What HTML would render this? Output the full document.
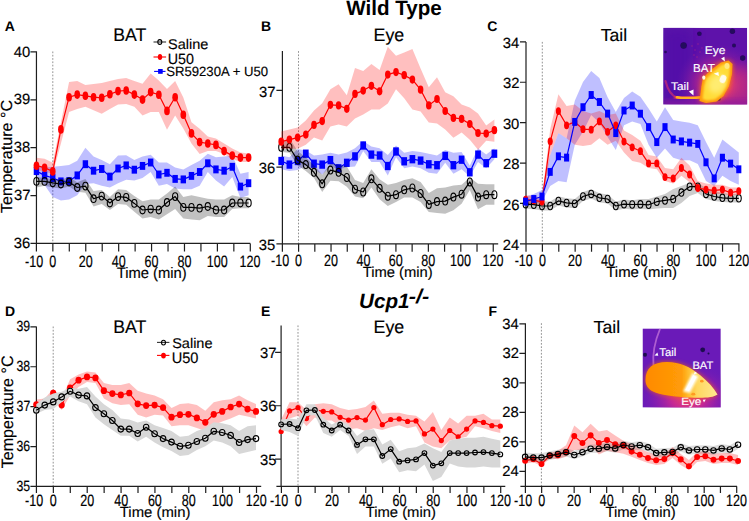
<!DOCTYPE html><html><head><meta charset="utf-8"><style>html,body{margin:0;padding:0;background:#fff;overflow:hidden}svg{display:block}</style></head><body>
<svg width="749" height="521" viewBox="0 0 749 521" style="font-family:'Liberation Sans',sans-serif;text-rendering:geometricPrecision">
<rect width="749" height="521" fill="#fff"/>
<defs><filter id="bl1" x="-50%" y="-50%" width="200%" height="200%"><feGaussianBlur stdDeviation="1.2"/></filter><filter id="bl05" x="-50%" y="-50%" width="200%" height="200%"><feGaussianBlur stdDeviation="0.6"/></filter><filter id="bl2" x="-50%" y="-50%" width="200%" height="200%"><feGaussianBlur stdDeviation="2.5"/></filter><filter id="bl3" x="-50%" y="-50%" width="200%" height="200%"><feGaussianBlur stdDeviation="6"/></filter><clipPath id="clipC"><rect x="663.2" y="27.8" width="84" height="76.8"/></clipPath><clipPath id="clipF"><rect x="642.5" y="328.4" width="78.3" height="79.2"/></clipPath><radialGradient id="gC" cx="0.5" cy="0.5" r="0.5"><stop offset="0" stop-color="#ff6a20" stop-opacity="1"/><stop offset="0.3" stop-color="#e03a70" stop-opacity="0.95"/><stop offset="0.65" stop-color="#a0209a" stop-opacity="0.55"/><stop offset="1" stop-color="#6a18aa" stop-opacity="0"/></radialGradient><radialGradient id="gF" cx="0.5" cy="0.5" r="0.5"><stop offset="0" stop-color="#f04a60" stop-opacity="1"/><stop offset="0.35" stop-color="#d02a90" stop-opacity="0.9"/><stop offset="0.7" stop-color="#a020a8" stop-opacity="0.45"/><stop offset="1" stop-color="#7020b0" stop-opacity="0"/></radialGradient><linearGradient id="gFb" x1="0" y1="0" x2="1" y2="0"><stop offset="0" stop-color="#ff8a00"/><stop offset="0.5" stop-color="#ff9c08"/><stop offset="0.6" stop-color="#ffbe30"/><stop offset="0.72" stop-color="#ffd860"/><stop offset="1" stop-color="#ffe890"/></linearGradient></defs>
<text transform="translate(346.2,14.76) scale(0.996,1)" font-size="20.68" font-weight="bold">Wild Type</text>
<text transform="translate(4.65,30.6)" font-size="14.00" font-weight="bold">A</text>
<text transform="translate(260.99,30.6)" font-size="14.00" font-weight="bold">B</text>
<text transform="translate(487.34,30.9)" font-size="14.00" font-weight="bold">C</text>
<text transform="translate(4.89,315.6)" font-size="14.00" font-weight="bold">D</text>
<text transform="translate(260.99,315.7)" font-size="14.00" font-weight="bold">E</text>
<text transform="translate(488.39,315.6)" font-size="14.00" font-weight="bold">F</text>
<text transform="translate(359.06,307.98) scale(1.004,1)" font-size="20.56" font-weight="bold" font-style="italic">Ucp1</text>
<text transform="translate(408.85,302.8) scale(1.085,1)" font-size="20.00" font-weight="bold" font-style="italic">-/-</text>
<line x1="52.8" y1="51.5" x2="52.8" y2="243.4" stroke="#8c8c8c" stroke-width="0.95" stroke-dasharray="1.7,1.6"/>
<path d="M36.45,51.2V243.4M36.45,243.4H250.3M30.45,243.4H36.45M30.45,195.53H36.45M30.45,147.65H36.45M30.45,99.78H36.45M30.45,51.9H36.45M36.4,243.4v8M52.85,243.4v8M69.3,243.4v8M85.76,243.4v8M102.21,243.4v8M118.67,243.4v8M135.12,243.4v8M151.57,243.4v8M168.03,243.4v8M184.48,243.4v8M200.94,243.4v8M217.39,243.4v8M233.84,243.4v8M250.3,243.4v8" stroke="#1e1e1e" stroke-width="1.2" fill="none"/>
<polygon points="36.43,165.9 44.59,167.6 52.75,166.8 60.91,165.9 69.07,165 77.23,160.7 85.39,147.8 93.55,156.4 101.71,159.9 109.87,164.2 118.03,155.5 126.19,155.2 134.35,159.9 142.51,156.4 150.67,154.7 158.83,162.5 166.99,162.5 175.15,167.6 183.31,169.4 191.47,165 199.63,160.7 207.79,153.8 215.95,157.3 224.11,156.4 232.27,155.5 240.43,173.7 248.59,172 248.59,195.3 240.43,197.9 232.27,177.1 224.11,186.6 215.95,180.6 207.79,172 199.63,185.8 191.47,189.2 183.31,189.2 175.15,188.4 166.99,184 158.83,185.8 150.67,172 142.51,178 134.35,180.6 126.19,179.7 118.03,183.2 109.87,187.5 101.71,185.8 93.55,183.2 85.39,184 77.23,195.3 69.07,199.6 60.91,200.4 52.75,197 44.59,184.9 36.43,176.3" fill="#0000ff" fill-opacity="0.25"/>
<polyline points="36.43,171.1 44.59,175.4 52.75,178 60.91,181.4 69.07,181.1 77.23,175.4 85.39,164.2 93.55,170.7 101.71,169 109.87,176.6 118.03,168.5 126.19,165.4 134.35,169.7 142.51,165.9 150.67,162.5 158.83,174.5 166.99,172.8 175.15,178.9 183.31,179.4 191.47,175.9 199.63,172 207.79,163.3 215.95,169.4 224.11,170.7 232.27,166.8 240.43,186.6 248.59,183.2" fill="none" stroke="#0000ff" stroke-width="1.2" stroke-linejoin="round"/>
<rect x="33.73" y="167.15" width="5.4" height="7.9" fill="#00f"/>
<rect x="41.89" y="171.45" width="5.4" height="7.9" fill="#00f"/>
<rect x="50.05" y="174.05" width="5.4" height="7.9" fill="#00f"/>
<rect x="58.21" y="177.45" width="5.4" height="7.9" fill="#00f"/>
<rect x="66.37" y="177.15" width="5.4" height="7.9" fill="#00f"/>
<rect x="74.53" y="171.45" width="5.4" height="7.9" fill="#00f"/>
<rect x="82.69" y="160.25" width="5.4" height="7.9" fill="#00f"/>
<rect x="90.85" y="166.75" width="5.4" height="7.9" fill="#00f"/>
<rect x="99.01" y="165.05" width="5.4" height="7.9" fill="#00f"/>
<rect x="107.17" y="172.65" width="5.4" height="7.9" fill="#00f"/>
<rect x="115.33" y="164.55" width="5.4" height="7.9" fill="#00f"/>
<rect x="123.49" y="161.45" width="5.4" height="7.9" fill="#00f"/>
<rect x="131.65" y="165.75" width="5.4" height="7.9" fill="#00f"/>
<rect x="139.81" y="161.95" width="5.4" height="7.9" fill="#00f"/>
<rect x="147.97" y="158.55" width="5.4" height="7.9" fill="#00f"/>
<rect x="156.13" y="170.55" width="5.4" height="7.9" fill="#00f"/>
<rect x="164.29" y="168.85" width="5.4" height="7.9" fill="#00f"/>
<rect x="172.45" y="174.95" width="5.4" height="7.9" fill="#00f"/>
<rect x="180.61" y="175.45" width="5.4" height="7.9" fill="#00f"/>
<rect x="188.77" y="171.95" width="5.4" height="7.9" fill="#00f"/>
<rect x="196.93" y="168.05" width="5.4" height="7.9" fill="#00f"/>
<rect x="205.09" y="159.35" width="5.4" height="7.9" fill="#00f"/>
<rect x="213.25" y="165.45" width="5.4" height="7.9" fill="#00f"/>
<rect x="221.41" y="166.75" width="5.4" height="7.9" fill="#00f"/>
<rect x="229.57" y="162.85" width="5.4" height="7.9" fill="#00f"/>
<rect x="237.73" y="182.65" width="5.4" height="7.9" fill="#00f"/>
<rect x="245.89" y="179.25" width="5.4" height="7.9" fill="#00f"/>
<polygon points="36.43,177.1 44.59,178 52.75,178.9 60.91,179.7 69.07,177.1 77.23,182.3 85.39,178.9 93.55,191 101.71,190.1 109.87,197 118.03,189.2 126.19,190.1 134.35,196.1 142.51,201.3 150.67,199.6 158.83,199.6 166.99,193.5 175.15,186.6 183.31,197 191.47,195.3 199.63,197 207.79,198.7 215.95,199.6 224.11,199.6 232.27,195.3 240.43,197 248.59,197 248.59,208.2 240.43,208.2 232.27,209.1 224.11,216.9 215.95,216.9 207.79,216 199.63,220.3 191.47,219.4 183.31,218.6 175.15,209.1 166.99,214.3 158.83,219.4 150.67,216.9 142.51,218.6 134.35,211.7 126.19,204.8 118.03,203.9 109.87,210 101.71,203.9 93.55,206.5 85.39,192.7 77.23,191.8 69.07,186.6 60.91,188.4 52.75,187.5 44.59,185.8 36.43,187.5" fill="#000000" fill-opacity="0.245"/>
<polyline points="36.43,181.4 44.59,181.4 52.75,182.8 60.91,184 69.07,182 77.23,187.5 85.39,186.1 93.55,198.7 101.71,196.1 109.87,203 118.03,196.6 126.19,197.3 134.35,203.4 142.51,210 150.67,209.1 158.83,210 166.99,202.5 175.15,196.6 183.31,207.4 191.47,207.4 199.63,208.2 207.79,206.5 215.95,210 224.11,210 232.27,203 240.43,203 248.59,203" fill="none" stroke="#000" stroke-width="1.2" stroke-linejoin="round"/>
<ellipse cx="36.43" cy="181.4" rx="2.6" ry="3.85" fill="none" stroke="#000" stroke-width="1.1"/>
<ellipse cx="44.59" cy="181.4" rx="2.6" ry="3.85" fill="none" stroke="#000" stroke-width="1.1"/>
<ellipse cx="52.75" cy="182.8" rx="2.6" ry="3.85" fill="none" stroke="#000" stroke-width="1.1"/>
<ellipse cx="60.91" cy="184" rx="2.6" ry="3.85" fill="none" stroke="#000" stroke-width="1.1"/>
<ellipse cx="69.07" cy="182" rx="2.6" ry="3.85" fill="none" stroke="#000" stroke-width="1.1"/>
<ellipse cx="77.23" cy="187.5" rx="2.6" ry="3.85" fill="none" stroke="#000" stroke-width="1.1"/>
<ellipse cx="85.39" cy="186.1" rx="2.6" ry="3.85" fill="none" stroke="#000" stroke-width="1.1"/>
<ellipse cx="93.55" cy="198.7" rx="2.6" ry="3.85" fill="none" stroke="#000" stroke-width="1.1"/>
<ellipse cx="101.71" cy="196.1" rx="2.6" ry="3.85" fill="none" stroke="#000" stroke-width="1.1"/>
<ellipse cx="109.87" cy="203" rx="2.6" ry="3.85" fill="none" stroke="#000" stroke-width="1.1"/>
<ellipse cx="118.03" cy="196.6" rx="2.6" ry="3.85" fill="none" stroke="#000" stroke-width="1.1"/>
<ellipse cx="126.19" cy="197.3" rx="2.6" ry="3.85" fill="none" stroke="#000" stroke-width="1.1"/>
<ellipse cx="134.35" cy="203.4" rx="2.6" ry="3.85" fill="none" stroke="#000" stroke-width="1.1"/>
<ellipse cx="142.51" cy="210" rx="2.6" ry="3.85" fill="none" stroke="#000" stroke-width="1.1"/>
<ellipse cx="150.67" cy="209.1" rx="2.6" ry="3.85" fill="none" stroke="#000" stroke-width="1.1"/>
<ellipse cx="158.83" cy="210" rx="2.6" ry="3.85" fill="none" stroke="#000" stroke-width="1.1"/>
<ellipse cx="166.99" cy="202.5" rx="2.6" ry="3.85" fill="none" stroke="#000" stroke-width="1.1"/>
<ellipse cx="175.15" cy="196.6" rx="2.6" ry="3.85" fill="none" stroke="#000" stroke-width="1.1"/>
<ellipse cx="183.31" cy="207.4" rx="2.6" ry="3.85" fill="none" stroke="#000" stroke-width="1.1"/>
<ellipse cx="191.47" cy="207.4" rx="2.6" ry="3.85" fill="none" stroke="#000" stroke-width="1.1"/>
<ellipse cx="199.63" cy="208.2" rx="2.6" ry="3.85" fill="none" stroke="#000" stroke-width="1.1"/>
<ellipse cx="207.79" cy="206.5" rx="2.6" ry="3.85" fill="none" stroke="#000" stroke-width="1.1"/>
<ellipse cx="215.95" cy="210" rx="2.6" ry="3.85" fill="none" stroke="#000" stroke-width="1.1"/>
<ellipse cx="224.11" cy="210" rx="2.6" ry="3.85" fill="none" stroke="#000" stroke-width="1.1"/>
<ellipse cx="232.27" cy="203" rx="2.6" ry="3.85" fill="none" stroke="#000" stroke-width="1.1"/>
<ellipse cx="240.43" cy="203" rx="2.6" ry="3.85" fill="none" stroke="#000" stroke-width="1.1"/>
<ellipse cx="248.59" cy="203" rx="2.6" ry="3.85" fill="none" stroke="#000" stroke-width="1.1"/>
<polygon points="36.43,157.7 44.59,158.7 52.75,162.7 60.91,122.4 69.07,82 77.23,81 85.39,85 93.55,84 101.71,83 109.87,81 118.03,79 126.19,78 134.35,80.9 142.51,83.8 150.67,73.5 158.83,80.4 166.99,89 175.15,80.9 183.31,97.6 191.47,122.3 199.63,128.8 207.79,136.4 215.95,138.4 224.11,143.5 232.27,148.5 240.43,152.5 248.59,153.5 248.59,161.9 240.43,161.9 232.27,159 224.11,154 215.95,151.1 207.79,151.1 199.63,154 191.47,143.5 183.31,128.4 175.15,115.5 166.99,129.8 158.83,112 150.67,112 142.51,115.5 134.35,106.8 126.19,103.9 118.03,104.5 109.87,109.1 101.71,113.7 93.55,110.3 85.39,106.8 77.23,109.1 69.07,112 60.91,143.5 52.75,173.8 44.59,171.8 36.43,169.8" fill="#ff0000" fill-opacity="0.25"/>
<polyline points="36.43,165.7 44.59,167.7 52.75,171.4 60.91,129.4 69.07,97.2 77.23,94.6 85.39,95.8 93.55,97.2 101.71,97.8 109.87,94.2 118.03,91.1 126.19,90.5 134.35,94.6 142.51,99.6 150.67,92.1 158.83,94.7 166.99,110.9 175.15,97.2 183.31,114.7 191.47,133.4 199.63,142.1 207.79,143.5 215.95,144.9 224.11,151.1 232.27,155.6 240.43,157.6 248.59,157.6" fill="none" stroke="#ff0000" stroke-width="1.2" stroke-linejoin="round"/>
<ellipse cx="36.43" cy="165.7" rx="2.85" ry="4.3" fill="#f00"/>
<ellipse cx="44.59" cy="167.7" rx="2.85" ry="4.3" fill="#f00"/>
<ellipse cx="52.75" cy="171.4" rx="2.85" ry="4.3" fill="#f00"/>
<ellipse cx="60.91" cy="129.4" rx="2.85" ry="4.3" fill="#f00"/>
<ellipse cx="69.07" cy="97.2" rx="2.85" ry="4.3" fill="#f00"/>
<ellipse cx="77.23" cy="94.6" rx="2.85" ry="4.3" fill="#f00"/>
<ellipse cx="85.39" cy="95.8" rx="2.85" ry="4.3" fill="#f00"/>
<ellipse cx="93.55" cy="97.2" rx="2.85" ry="4.3" fill="#f00"/>
<ellipse cx="101.71" cy="97.8" rx="2.85" ry="4.3" fill="#f00"/>
<ellipse cx="109.87" cy="94.2" rx="2.85" ry="4.3" fill="#f00"/>
<ellipse cx="118.03" cy="91.1" rx="2.85" ry="4.3" fill="#f00"/>
<ellipse cx="126.19" cy="90.5" rx="2.85" ry="4.3" fill="#f00"/>
<ellipse cx="134.35" cy="94.6" rx="2.85" ry="4.3" fill="#f00"/>
<ellipse cx="142.51" cy="99.6" rx="2.85" ry="4.3" fill="#f00"/>
<ellipse cx="150.67" cy="92.1" rx="2.85" ry="4.3" fill="#f00"/>
<ellipse cx="158.83" cy="94.7" rx="2.85" ry="4.3" fill="#f00"/>
<ellipse cx="166.99" cy="110.9" rx="2.85" ry="4.3" fill="#f00"/>
<ellipse cx="175.15" cy="97.2" rx="2.85" ry="4.3" fill="#f00"/>
<ellipse cx="183.31" cy="114.7" rx="2.85" ry="4.3" fill="#f00"/>
<ellipse cx="191.47" cy="133.4" rx="2.85" ry="4.3" fill="#f00"/>
<ellipse cx="199.63" cy="142.1" rx="2.85" ry="4.3" fill="#f00"/>
<ellipse cx="207.79" cy="143.5" rx="2.85" ry="4.3" fill="#f00"/>
<ellipse cx="215.95" cy="144.9" rx="2.85" ry="4.3" fill="#f00"/>
<ellipse cx="224.11" cy="151.1" rx="2.85" ry="4.3" fill="#f00"/>
<ellipse cx="232.27" cy="155.6" rx="2.85" ry="4.3" fill="#f00"/>
<ellipse cx="240.43" cy="157.6" rx="2.85" ry="4.3" fill="#f00"/>
<ellipse cx="248.59" cy="157.6" rx="2.85" ry="4.3" fill="#f00"/>
<text transform="translate(13.76,248)" font-size="14.80" stroke="#000" stroke-width="0.15">36</text>
<text transform="translate(13.91,200.12)" font-size="14.80" stroke="#000" stroke-width="0.15">37</text>
<text transform="translate(13.76,152.25)" font-size="14.80" stroke="#000" stroke-width="0.15">38</text>
<text transform="translate(13.84,104.38)" font-size="14.80" stroke="#000" stroke-width="0.15">39</text>
<text transform="translate(13.69,56.5)" font-size="14.80" stroke="#000" stroke-width="0.15">40</text>
<text transform="translate(25.01,266.5) scale(0.760,1)" font-size="16.50" stroke="#000" stroke-width="0.20">-10</text>
<text transform="translate(49.34,266.5) scale(0.760,1)" font-size="16.50" stroke="#000" stroke-width="0.20">0</text>
<text transform="translate(78.7,266.5) scale(0.760,1)" font-size="16.50" stroke="#000" stroke-width="0.20">20</text>
<text transform="translate(111.8,266.5) scale(0.760,1)" font-size="16.50" stroke="#000" stroke-width="0.20">40</text>
<text transform="translate(144.52,266.5) scale(0.760,1)" font-size="16.50" stroke="#000" stroke-width="0.20">60</text>
<text transform="translate(177.46,266.5) scale(0.760,1)" font-size="16.50" stroke="#000" stroke-width="0.20">80</text>
<text transform="translate(206.7,266.5) scale(0.760,1)" font-size="16.50" stroke="#000" stroke-width="0.20">100</text>
<text transform="translate(239.61,266.5) scale(0.760,1)" font-size="16.50" stroke="#000" stroke-width="0.20">120</text>
<text transform="translate(116.7,278.41) scale(0.972,1)" font-size="15.19" stroke="#000" stroke-width="0.15">Time (min)</text>
<text transform="translate(11.7,213.12) rotate(-90) scale(1.009,1)" font-size="16.00" stroke="#000" stroke-width="0.15">Temperature °C</text>
<text transform="translate(113.19,41) scale(0.968,1)" font-size="18.26" stroke="#000" stroke-width="0.15">BAT</text>
<path d="M153.5,42H166.1" stroke="#333" stroke-width="1.1"/>
<path d="M153.5,57H166.1" stroke="#f00" stroke-width="1.1"/>
<path d="M154.1,71.4H165.5" stroke="#00f" stroke-width="1.1"/>
<ellipse cx="159.8" cy="42" rx="2.0" ry="2.4" fill="none" stroke="#000" stroke-width="1.1"/>
<ellipse cx="160" cy="57" rx="2.2" ry="2.95" fill="#f00"/>
<rect x="158.1" y="69" width="4.6" height="4.8" fill="#00f"/>
<text transform="translate(168.05,49.06) scale(1.025,1)" font-size="14.15" stroke="#000" stroke-width="0.15">Saline</text>
<text transform="translate(167.63,63.85) scale(0.968,1)" font-size="14.79" stroke="#000" stroke-width="0.15">U50</text>
<text transform="translate(166.21,75.87) scale(0.982,1)" font-size="13.38" stroke="#000" stroke-width="0.15">SR59230A + U50</text>
<line x1="298.5" y1="51.1" x2="298.5" y2="243.85" stroke="#8c8c8c" stroke-width="0.95" stroke-dasharray="1.7,1.6"/>
<path d="M282.4,51.1V243.85M282.4,243.85H498.2M276.4,243.85H282.4M276.4,167.1H282.4M276.4,90.4H282.4M282.38,243.85v8M298.6,243.85v8M314.82,243.85v8M331.04,243.85v8M347.26,243.85v8M363.48,243.85v8M379.7,243.85v8M395.92,243.85v8M412.14,243.85v8M428.36,243.85v8M444.58,243.85v8M460.8,243.85v8M477.02,243.85v8M493.24,243.85v8" stroke="#1e1e1e" stroke-width="1.2" fill="none"/>
<polygon points="281.2,155.5 289.4,157.3 297.6,149.1 305.8,150.4 314,155.5 322.2,154.6 330.4,152.8 338.6,154.5 346.8,152.5 355,148.2 363.2,140.9 371.4,146.4 379.6,148.2 387.8,155 396,145.5 404.2,152.8 412.4,151 420.6,151.9 428.8,153.7 437,155.5 445.2,150 453.4,152.8 461.6,151.9 469.8,165.5 478,148.2 486.2,154.6 494.4,148.2 494.4,159.2 486.2,168.3 478,161.9 469.8,176.5 461.6,169.2 453.4,173.7 445.2,162.8 437,173.7 428.8,172.8 420.6,168.3 412.4,166.5 404.2,168.3 396,157.3 387.8,175.6 379.6,161.9 371.4,161.9 363.2,151 355,166.5 346.8,167.2 338.6,169.3 330.4,166.5 322.2,174.6 314,169.2 305.8,166 297.6,170.1 289.4,171 281.2,169.2" fill="#0000ff" fill-opacity="0.25"/>
<polyline points="281.2,161 289.4,164.6 297.6,161 305.8,153.7 314,163.7 322.2,164.6 330.4,160.1 338.6,168.3 346.8,162.8 355,156.4 363.2,145.5 371.4,154.6 379.6,155.5 387.8,166 396,151.5 404.2,161.3 412.4,159.2 420.6,160.6 428.8,164.3 437,165.2 445.2,155.9 453.4,165.2 461.6,159.7 469.8,172.3 478,154.6 486.2,163.2 494.4,153.7" fill="none" stroke="#0000ff" stroke-width="1.2" stroke-linejoin="round"/>
<rect x="278.35" y="156.85" width="5.7" height="8.3" fill="#00f"/>
<rect x="286.55" y="160.45" width="5.7" height="8.3" fill="#00f"/>
<rect x="294.75" y="156.85" width="5.7" height="8.3" fill="#00f"/>
<rect x="302.95" y="149.55" width="5.7" height="8.3" fill="#00f"/>
<rect x="311.15" y="159.55" width="5.7" height="8.3" fill="#00f"/>
<rect x="319.35" y="160.45" width="5.7" height="8.3" fill="#00f"/>
<rect x="327.55" y="155.95" width="5.7" height="8.3" fill="#00f"/>
<rect x="335.75" y="164.15" width="5.7" height="8.3" fill="#00f"/>
<rect x="343.95" y="158.65" width="5.7" height="8.3" fill="#00f"/>
<rect x="352.15" y="152.25" width="5.7" height="8.3" fill="#00f"/>
<rect x="360.35" y="141.35" width="5.7" height="8.3" fill="#00f"/>
<rect x="368.55" y="150.45" width="5.7" height="8.3" fill="#00f"/>
<rect x="376.75" y="151.35" width="5.7" height="8.3" fill="#00f"/>
<rect x="384.95" y="161.85" width="5.7" height="8.3" fill="#00f"/>
<rect x="393.15" y="147.35" width="5.7" height="8.3" fill="#00f"/>
<rect x="401.35" y="157.15" width="5.7" height="8.3" fill="#00f"/>
<rect x="409.55" y="155.05" width="5.7" height="8.3" fill="#00f"/>
<rect x="417.75" y="156.45" width="5.7" height="8.3" fill="#00f"/>
<rect x="425.95" y="160.15" width="5.7" height="8.3" fill="#00f"/>
<rect x="434.15" y="161.05" width="5.7" height="8.3" fill="#00f"/>
<rect x="442.35" y="151.75" width="5.7" height="8.3" fill="#00f"/>
<rect x="450.55" y="161.05" width="5.7" height="8.3" fill="#00f"/>
<rect x="458.75" y="155.55" width="5.7" height="8.3" fill="#00f"/>
<rect x="466.95" y="168.15" width="5.7" height="8.3" fill="#00f"/>
<rect x="475.15" y="150.45" width="5.7" height="8.3" fill="#00f"/>
<rect x="483.35" y="159.05" width="5.7" height="8.3" fill="#00f"/>
<rect x="491.55" y="149.55" width="5.7" height="8.3" fill="#00f"/>
<polygon points="281.2,141.8 289.4,138.2 297.6,151 305.8,157.3 314,165.2 322.2,174.7 330.4,163.7 338.6,164.6 346.8,166.6 355,180.1 363.2,182.9 371.4,169.2 379.6,179.2 387.8,184.7 396,182.9 404.2,180.1 412.4,178.3 420.6,181.9 428.8,192.9 437,188.3 445.2,187.4 453.4,185.6 461.6,184.7 469.8,177.4 478,183.8 486.2,184.3 494.4,184.3 494.4,204.7 486.2,204.7 478,209.3 469.8,190.1 461.6,203.8 453.4,210.2 445.2,213.8 437,212.9 428.8,212 420.6,202 412.4,197.4 404.2,197.4 396,202 387.8,206 379.6,199.3 371.4,187.4 363.2,198.3 355,196.5 346.8,186.7 338.6,181.3 330.4,180.7 322.2,192 314,178 305.8,171 297.6,165.5 289.4,152.8 281.2,151.9" fill="#000000" fill-opacity="0.245"/>
<polyline points="281.2,147.3 289.4,147.3 297.6,160.1 305.8,164.6 314,172.3 322.2,183.8 330.4,170.1 338.6,172.3 346.8,177.4 355,189.2 363.2,192 371.4,178.8 379.6,188.3 387.8,196.2 396,194.7 404.2,189.8 412.4,188 420.6,193.4 428.8,204.4 437,201.6 445.2,201.1 453.4,197.1 461.6,194.2 469.8,181.9 478,197.1 486.2,194.7 494.4,194.7" fill="none" stroke="#000" stroke-width="1.2" stroke-linejoin="round"/>
<ellipse cx="281.2" cy="147.3" rx="2.5" ry="3.95" fill="none" stroke="#000" stroke-width="1.1"/>
<ellipse cx="289.4" cy="147.3" rx="2.5" ry="3.95" fill="none" stroke="#000" stroke-width="1.1"/>
<ellipse cx="297.6" cy="160.1" rx="2.5" ry="3.95" fill="none" stroke="#000" stroke-width="1.1"/>
<ellipse cx="305.8" cy="164.6" rx="2.5" ry="3.95" fill="none" stroke="#000" stroke-width="1.1"/>
<ellipse cx="314" cy="172.3" rx="2.5" ry="3.95" fill="none" stroke="#000" stroke-width="1.1"/>
<ellipse cx="322.2" cy="183.8" rx="2.5" ry="3.95" fill="none" stroke="#000" stroke-width="1.1"/>
<ellipse cx="330.4" cy="170.1" rx="2.5" ry="3.95" fill="none" stroke="#000" stroke-width="1.1"/>
<ellipse cx="338.6" cy="172.3" rx="2.5" ry="3.95" fill="none" stroke="#000" stroke-width="1.1"/>
<ellipse cx="346.8" cy="177.4" rx="2.5" ry="3.95" fill="none" stroke="#000" stroke-width="1.1"/>
<ellipse cx="355" cy="189.2" rx="2.5" ry="3.95" fill="none" stroke="#000" stroke-width="1.1"/>
<ellipse cx="363.2" cy="192" rx="2.5" ry="3.95" fill="none" stroke="#000" stroke-width="1.1"/>
<ellipse cx="371.4" cy="178.8" rx="2.5" ry="3.95" fill="none" stroke="#000" stroke-width="1.1"/>
<ellipse cx="379.6" cy="188.3" rx="2.5" ry="3.95" fill="none" stroke="#000" stroke-width="1.1"/>
<ellipse cx="387.8" cy="196.2" rx="2.5" ry="3.95" fill="none" stroke="#000" stroke-width="1.1"/>
<ellipse cx="396" cy="194.7" rx="2.5" ry="3.95" fill="none" stroke="#000" stroke-width="1.1"/>
<ellipse cx="404.2" cy="189.8" rx="2.5" ry="3.95" fill="none" stroke="#000" stroke-width="1.1"/>
<ellipse cx="412.4" cy="188" rx="2.5" ry="3.95" fill="none" stroke="#000" stroke-width="1.1"/>
<ellipse cx="420.6" cy="193.4" rx="2.5" ry="3.95" fill="none" stroke="#000" stroke-width="1.1"/>
<ellipse cx="428.8" cy="204.4" rx="2.5" ry="3.95" fill="none" stroke="#000" stroke-width="1.1"/>
<ellipse cx="437" cy="201.6" rx="2.5" ry="3.95" fill="none" stroke="#000" stroke-width="1.1"/>
<ellipse cx="445.2" cy="201.1" rx="2.5" ry="3.95" fill="none" stroke="#000" stroke-width="1.1"/>
<ellipse cx="453.4" cy="197.1" rx="2.5" ry="3.95" fill="none" stroke="#000" stroke-width="1.1"/>
<ellipse cx="461.6" cy="194.2" rx="2.5" ry="3.95" fill="none" stroke="#000" stroke-width="1.1"/>
<ellipse cx="469.8" cy="181.9" rx="2.5" ry="3.95" fill="none" stroke="#000" stroke-width="1.1"/>
<ellipse cx="478" cy="197.1" rx="2.5" ry="3.95" fill="none" stroke="#000" stroke-width="1.1"/>
<ellipse cx="486.2" cy="194.7" rx="2.5" ry="3.95" fill="none" stroke="#000" stroke-width="1.1"/>
<ellipse cx="494.4" cy="194.7" rx="2.5" ry="3.95" fill="none" stroke="#000" stroke-width="1.1"/>
<polygon points="281.2,131.6 289.4,129.6 297.6,127.5 305.8,120.5 314,110.4 322.2,103.3 330.4,89.2 338.6,84.2 346.8,95.3 355,68.1 363.2,71.1 371.4,64 379.6,70.1 387.8,46.8 396,55.7 404.2,52.4 412.4,49.1 420.6,68.4 428.8,87.3 437,77.2 445.2,92.3 453.4,96.3 461.6,104.4 469.8,107.4 478,113.5 486.2,125.6 494.4,119.5 494.4,141.7 486.2,140.7 478,149.8 469.8,139.7 461.6,132.6 453.4,137.7 445.2,129.6 437,123.5 428.8,122.5 420.6,111.5 412.4,109.4 404.2,98.3 396,89.3 387.8,103.4 379.6,109.4 371.4,109.4 363.2,114.4 355,118.5 346.8,126.5 338.6,124.5 330.4,126.5 322.2,140.6 314,137.6 305.8,144.7 297.6,148.7 289.4,148.7 281.2,148.7" fill="#ff0000" fill-opacity="0.25"/>
<polyline points="281.2,141.7 289.4,139.6 297.6,137.6 305.8,134.6 314,124.9 322.2,121.1 330.4,104.8 338.6,105.4 346.8,108.8 355,93.9 363.2,90.6 371.4,85.8 379.6,91.3 387.8,74.6 396,72.1 404.2,75.2 412.4,79.6 420.6,89.7 428.8,105.4 437,99 445.2,111 453.4,117.9 461.6,118.9 469.8,124 478,133 486.2,133.6 494.4,130.2" fill="none" stroke="#ff0000" stroke-width="1.2" stroke-linejoin="round"/>
<ellipse cx="281.2" cy="141.7" rx="2.8" ry="4.1" fill="#f00"/>
<ellipse cx="289.4" cy="139.6" rx="2.8" ry="4.1" fill="#f00"/>
<ellipse cx="297.6" cy="137.6" rx="2.8" ry="4.1" fill="#f00"/>
<ellipse cx="305.8" cy="134.6" rx="2.8" ry="4.1" fill="#f00"/>
<ellipse cx="314" cy="124.9" rx="2.8" ry="4.1" fill="#f00"/>
<ellipse cx="322.2" cy="121.1" rx="2.8" ry="4.1" fill="#f00"/>
<ellipse cx="330.4" cy="104.8" rx="2.8" ry="4.1" fill="#f00"/>
<ellipse cx="338.6" cy="105.4" rx="2.8" ry="4.1" fill="#f00"/>
<ellipse cx="346.8" cy="108.8" rx="2.8" ry="4.1" fill="#f00"/>
<ellipse cx="355" cy="93.9" rx="2.8" ry="4.1" fill="#f00"/>
<ellipse cx="363.2" cy="90.6" rx="2.8" ry="4.1" fill="#f00"/>
<ellipse cx="371.4" cy="85.8" rx="2.8" ry="4.1" fill="#f00"/>
<ellipse cx="379.6" cy="91.3" rx="2.8" ry="4.1" fill="#f00"/>
<ellipse cx="387.8" cy="74.6" rx="2.8" ry="4.1" fill="#f00"/>
<ellipse cx="396" cy="72.1" rx="2.8" ry="4.1" fill="#f00"/>
<ellipse cx="404.2" cy="75.2" rx="2.8" ry="4.1" fill="#f00"/>
<ellipse cx="412.4" cy="79.6" rx="2.8" ry="4.1" fill="#f00"/>
<ellipse cx="420.6" cy="89.7" rx="2.8" ry="4.1" fill="#f00"/>
<ellipse cx="428.8" cy="105.4" rx="2.8" ry="4.1" fill="#f00"/>
<ellipse cx="437" cy="99" rx="2.8" ry="4.1" fill="#f00"/>
<ellipse cx="445.2" cy="111" rx="2.8" ry="4.1" fill="#f00"/>
<ellipse cx="453.4" cy="117.9" rx="2.8" ry="4.1" fill="#f00"/>
<ellipse cx="461.6" cy="118.9" rx="2.8" ry="4.1" fill="#f00"/>
<ellipse cx="469.8" cy="124" rx="2.8" ry="4.1" fill="#f00"/>
<ellipse cx="478" cy="133" rx="2.8" ry="4.1" fill="#f00"/>
<ellipse cx="486.2" cy="133.6" rx="2.8" ry="4.1" fill="#f00"/>
<ellipse cx="494.4" cy="130.2" rx="2.8" ry="4.1" fill="#f00"/>
<text transform="translate(258.76,250.05)" font-size="14.80" stroke="#000" stroke-width="0.15">35</text>
<text transform="translate(258.76,173.3)" font-size="14.80" stroke="#000" stroke-width="0.15">36</text>
<text transform="translate(258.91,96.6)" font-size="14.80" stroke="#000" stroke-width="0.15">37</text>
<text transform="translate(270.99,265.8) scale(0.760,1)" font-size="16.50" stroke="#000" stroke-width="0.20">-10</text>
<text transform="translate(295.09,265.8) scale(0.760,1)" font-size="16.50" stroke="#000" stroke-width="0.20">0</text>
<text transform="translate(323.99,265.8) scale(0.760,1)" font-size="16.50" stroke="#000" stroke-width="0.20">20</text>
<text transform="translate(356.61,265.8) scale(0.760,1)" font-size="16.50" stroke="#000" stroke-width="0.20">40</text>
<text transform="translate(388.87,265.8) scale(0.760,1)" font-size="16.50" stroke="#000" stroke-width="0.20">60</text>
<text transform="translate(421.34,265.8) scale(0.760,1)" font-size="16.50" stroke="#000" stroke-width="0.20">80</text>
<text transform="translate(450.11,265.8) scale(0.760,1)" font-size="16.50" stroke="#000" stroke-width="0.20">100</text>
<text transform="translate(482.55,265.8) scale(0.760,1)" font-size="16.50" stroke="#000" stroke-width="0.20">120</text>
<text transform="translate(362.7,277.12) scale(1.009,1)" font-size="14.65" stroke="#000" stroke-width="0.15">Time (min)</text>
<text transform="translate(373.58,40.98) scale(0.992,1)" font-size="17.94" stroke="#000" stroke-width="0.15">Eye</text>
<line x1="542.3" y1="41.9" x2="542.3" y2="243.85" stroke="#8c8c8c" stroke-width="0.95" stroke-dasharray="1.7,1.6"/>
<path d="M526,41.9V243.85M520.2,243.85H739.5M520,243.85H526M520,203.45H526M520,163.05H526M520,122.65H526M520,82.25H526M520,41.85H526M526.02,243.85v8M542.4,243.85v8M558.78,243.85v8M575.15,243.85v8M591.53,243.85v8M607.91,243.85v8M624.28,243.85v8M640.66,243.85v8M657.04,243.85v8M673.42,243.85v8M689.79,243.85v8M706.17,243.85v8M722.55,243.85v8M738.92,243.85v8" stroke="#1e1e1e" stroke-width="1.2" fill="none"/>
<polygon points="525.6,196.5 533.8,193.9 542,190 550.2,155 558.4,133.1 566.6,138.2 574.8,100.7 583,81.9 591.2,71.1 599.4,78.1 607.6,97.3 615.8,112 624,98 632.2,91.6 640.4,96.8 648.6,108.5 656.8,121.4 665,107.2 673.2,120.1 681.4,121.4 689.6,122.7 697.8,125.3 706,142.1 714.2,157.7 722.4,139.5 730.6,146 738.8,152.5 738.8,184.8 730.6,181 722.4,175.8 714.2,186.1 706,181 697.8,164.1 689.6,160.2 681.4,160.2 673.2,157.7 665,148.6 656.8,157.7 648.6,144.7 640.4,124 632.2,121.4 624,125.3 615.8,149.9 607.6,136.9 599.4,122.7 591.2,114.9 583,131.8 574.8,144.7 566.6,182.2 558.4,180.9 550.2,186.1 542,201.6 533.8,204.2 525.6,206.8" fill="#0000ff" fill-opacity="0.25"/>
<polygon points="525.6,199.6 533.8,200.1 542,201.4 550.2,201.4 558.4,196.3 566.6,198.3 574.8,199.1 583,191.9 591.2,189.3 599.4,193.2 607.6,194.4 615.8,201.4 624,199.6 632.2,200.3 640.4,199 648.6,199 656.8,196.5 665,194 673.2,189 681.4,186 689.6,182.7 697.8,183 706,188 714.2,191 722.4,193 730.6,194 738.8,194 738.8,202.5 730.6,202.5 722.4,202 714.2,201 706,199 697.8,193 689.6,196 681.4,203 673.2,208 665,208 656.8,208.5 648.6,209.5 640.4,209 632.2,209.5 624,208.8 615.8,210.6 607.6,203.6 599.4,202.4 591.2,198.5 583,201.1 574.8,208.3 566.6,207.5 558.4,205.5 550.2,210.6 542,210.6 533.8,209.3 525.6,208.8" fill="#000000" fill-opacity="0.2"/>
<polygon points="525.6,195.2 533.8,195.9 542,197.8 550.2,129.2 558.4,94.2 566.6,105.9 574.8,104.6 583,111.1 591.2,113.6 599.4,111.1 607.6,114.9 615.8,113.6 624,130.5 632.2,135 640.4,140.8 648.6,155.1 656.8,156.4 665,168 673.2,169.3 681.4,157.7 689.6,165.4 697.8,181 706,183.5 714.2,184.8 722.4,184.8 730.6,187.4 738.8,187.4 738.8,195.2 730.6,195.2 722.4,193.9 714.2,193.9 706,192.6 697.8,191.3 689.6,182.3 681.4,175.8 673.2,183.5 665,181 656.8,169.3 648.6,168 640.4,162.8 632.2,161 624,152.5 615.8,140.8 607.6,144.7 599.4,138.2 591.2,144.7 583,146 574.8,144.7 566.6,138.2 558.4,133.1 550.2,155 542,205.5 533.8,204.2 525.6,203.7" fill="#ff0000" fill-opacity="0.25"/>
<polyline points="525.6,204.2 533.8,204.7 542,206 550.2,206 558.4,200.9 566.6,202.9 574.8,203.7 583,196.5 591.2,193.9 599.4,197.8 607.6,199 615.8,206 624,204.2 632.2,204.5 640.4,204.3 648.6,204.8 656.8,201.7 665,200.4 673.2,199.1 681.4,192.6 689.6,186.7 697.8,186.7 706,193.9 714.2,196.5 722.4,197.8 730.6,198.3 738.8,198.3" fill="none" stroke="#000" stroke-width="1.2" stroke-linejoin="round"/>
<ellipse cx="525.6" cy="204.2" rx="2.45" ry="3.7" fill="none" stroke="#000" stroke-width="1.1"/>
<ellipse cx="533.8" cy="204.7" rx="2.45" ry="3.7" fill="none" stroke="#000" stroke-width="1.1"/>
<ellipse cx="542" cy="206" rx="2.45" ry="3.7" fill="none" stroke="#000" stroke-width="1.1"/>
<ellipse cx="550.2" cy="206" rx="2.45" ry="3.7" fill="none" stroke="#000" stroke-width="1.1"/>
<ellipse cx="558.4" cy="200.9" rx="2.45" ry="3.7" fill="none" stroke="#000" stroke-width="1.1"/>
<ellipse cx="566.6" cy="202.9" rx="2.45" ry="3.7" fill="none" stroke="#000" stroke-width="1.1"/>
<ellipse cx="574.8" cy="203.7" rx="2.45" ry="3.7" fill="none" stroke="#000" stroke-width="1.1"/>
<ellipse cx="583" cy="196.5" rx="2.45" ry="3.7" fill="none" stroke="#000" stroke-width="1.1"/>
<ellipse cx="591.2" cy="193.9" rx="2.45" ry="3.7" fill="none" stroke="#000" stroke-width="1.1"/>
<ellipse cx="599.4" cy="197.8" rx="2.45" ry="3.7" fill="none" stroke="#000" stroke-width="1.1"/>
<ellipse cx="607.6" cy="199" rx="2.45" ry="3.7" fill="none" stroke="#000" stroke-width="1.1"/>
<ellipse cx="615.8" cy="206" rx="2.45" ry="3.7" fill="none" stroke="#000" stroke-width="1.1"/>
<ellipse cx="624" cy="204.2" rx="2.45" ry="3.7" fill="none" stroke="#000" stroke-width="1.1"/>
<ellipse cx="632.2" cy="204.5" rx="2.45" ry="3.7" fill="none" stroke="#000" stroke-width="1.1"/>
<ellipse cx="640.4" cy="204.3" rx="2.45" ry="3.7" fill="none" stroke="#000" stroke-width="1.1"/>
<ellipse cx="648.6" cy="204.8" rx="2.45" ry="3.7" fill="none" stroke="#000" stroke-width="1.1"/>
<ellipse cx="656.8" cy="201.7" rx="2.45" ry="3.7" fill="none" stroke="#000" stroke-width="1.1"/>
<ellipse cx="665" cy="200.4" rx="2.45" ry="3.7" fill="none" stroke="#000" stroke-width="1.1"/>
<ellipse cx="673.2" cy="199.1" rx="2.45" ry="3.7" fill="none" stroke="#000" stroke-width="1.1"/>
<ellipse cx="681.4" cy="192.6" rx="2.45" ry="3.7" fill="none" stroke="#000" stroke-width="1.1"/>
<ellipse cx="689.6" cy="186.7" rx="2.45" ry="3.7" fill="none" stroke="#000" stroke-width="1.1"/>
<ellipse cx="697.8" cy="186.7" rx="2.45" ry="3.7" fill="none" stroke="#000" stroke-width="1.1"/>
<ellipse cx="706" cy="193.9" rx="2.45" ry="3.7" fill="none" stroke="#000" stroke-width="1.1"/>
<ellipse cx="714.2" cy="196.5" rx="2.45" ry="3.7" fill="none" stroke="#000" stroke-width="1.1"/>
<ellipse cx="722.4" cy="197.8" rx="2.45" ry="3.7" fill="none" stroke="#000" stroke-width="1.1"/>
<ellipse cx="730.6" cy="198.3" rx="2.45" ry="3.7" fill="none" stroke="#000" stroke-width="1.1"/>
<ellipse cx="738.8" cy="198.3" rx="2.45" ry="3.7" fill="none" stroke="#000" stroke-width="1.1"/>
<polyline points="525.6,199.6 533.8,200.3 542,201.6 550.2,141.3 558.4,111.1 566.6,125.3 574.8,121.9 583,129.2 591.2,129.7 599.4,121.4 607.6,131.8 615.8,125.3 624,141.6 632.2,147.3 640.4,151.2 648.6,163.4 656.8,163.4 665,177.1 673.2,178.4 681.4,168 689.6,174.5 697.8,188 706,189.6 714.2,190.4 722.4,189.6 730.6,192.7 738.8,191.1" fill="none" stroke="#ff0000" stroke-width="1.2" stroke-linejoin="round"/>
<ellipse cx="525.6" cy="199.6" rx="2.55" ry="3.9" fill="#f00"/>
<ellipse cx="533.8" cy="200.3" rx="2.55" ry="3.9" fill="#f00"/>
<ellipse cx="542" cy="201.6" rx="2.55" ry="3.9" fill="#f00"/>
<ellipse cx="550.2" cy="141.3" rx="2.55" ry="3.9" fill="#f00"/>
<ellipse cx="558.4" cy="111.1" rx="2.55" ry="3.9" fill="#f00"/>
<ellipse cx="566.6" cy="125.3" rx="2.55" ry="3.9" fill="#f00"/>
<ellipse cx="574.8" cy="121.9" rx="2.55" ry="3.9" fill="#f00"/>
<ellipse cx="583" cy="129.2" rx="2.55" ry="3.9" fill="#f00"/>
<ellipse cx="591.2" cy="129.7" rx="2.55" ry="3.9" fill="#f00"/>
<ellipse cx="599.4" cy="121.4" rx="2.55" ry="3.9" fill="#f00"/>
<ellipse cx="607.6" cy="131.8" rx="2.55" ry="3.9" fill="#f00"/>
<ellipse cx="615.8" cy="125.3" rx="2.55" ry="3.9" fill="#f00"/>
<ellipse cx="624" cy="141.6" rx="2.55" ry="3.9" fill="#f00"/>
<ellipse cx="632.2" cy="147.3" rx="2.55" ry="3.9" fill="#f00"/>
<ellipse cx="640.4" cy="151.2" rx="2.55" ry="3.9" fill="#f00"/>
<ellipse cx="648.6" cy="163.4" rx="2.55" ry="3.9" fill="#f00"/>
<ellipse cx="656.8" cy="163.4" rx="2.55" ry="3.9" fill="#f00"/>
<ellipse cx="665" cy="177.1" rx="2.55" ry="3.9" fill="#f00"/>
<ellipse cx="673.2" cy="178.4" rx="2.55" ry="3.9" fill="#f00"/>
<ellipse cx="681.4" cy="168" rx="2.55" ry="3.9" fill="#f00"/>
<ellipse cx="689.6" cy="174.5" rx="2.55" ry="3.9" fill="#f00"/>
<ellipse cx="697.8" cy="188" rx="2.55" ry="3.9" fill="#f00"/>
<ellipse cx="706" cy="189.6" rx="2.55" ry="3.9" fill="#f00"/>
<ellipse cx="714.2" cy="190.4" rx="2.55" ry="3.9" fill="#f00"/>
<ellipse cx="722.4" cy="189.6" rx="2.55" ry="3.9" fill="#f00"/>
<ellipse cx="730.6" cy="192.7" rx="2.55" ry="3.9" fill="#f00"/>
<ellipse cx="738.8" cy="191.1" rx="2.55" ry="3.9" fill="#f00"/>
<polyline points="525.6,201.6 533.8,199 542,196.5 550.2,171.9 558.4,156.3 566.6,157.6 574.8,121.9 583,107.2 591.2,95 599.4,102 607.6,113.6 615.8,133.1 624,110.5 632.2,105.5 640.4,113.7 648.6,127.1 656.8,142.1 665,127.1 673.2,139.5 681.4,141.4 689.6,142.6 697.8,143.9 706,162.3 714.2,178.4 722.4,157.7 730.6,163.6 738.8,169.3" fill="none" stroke="#0000ff" stroke-width="1.2" stroke-linejoin="round"/>
<rect x="523.05" y="197.65" width="5.1" height="7.9" fill="#00f"/>
<rect x="531.25" y="195.05" width="5.1" height="7.9" fill="#00f"/>
<rect x="539.45" y="192.55" width="5.1" height="7.9" fill="#00f"/>
<rect x="547.65" y="167.95" width="5.1" height="7.9" fill="#00f"/>
<rect x="555.85" y="152.35" width="5.1" height="7.9" fill="#00f"/>
<rect x="564.05" y="153.65" width="5.1" height="7.9" fill="#00f"/>
<rect x="572.25" y="117.95" width="5.1" height="7.9" fill="#00f"/>
<rect x="580.45" y="103.25" width="5.1" height="7.9" fill="#00f"/>
<rect x="588.65" y="91.05" width="5.1" height="7.9" fill="#00f"/>
<rect x="596.85" y="98.05" width="5.1" height="7.9" fill="#00f"/>
<rect x="605.05" y="109.65" width="5.1" height="7.9" fill="#00f"/>
<rect x="613.25" y="129.15" width="5.1" height="7.9" fill="#00f"/>
<rect x="621.45" y="106.55" width="5.1" height="7.9" fill="#00f"/>
<rect x="629.65" y="101.55" width="5.1" height="7.9" fill="#00f"/>
<rect x="637.85" y="109.75" width="5.1" height="7.9" fill="#00f"/>
<rect x="646.05" y="123.15" width="5.1" height="7.9" fill="#00f"/>
<rect x="654.25" y="138.15" width="5.1" height="7.9" fill="#00f"/>
<rect x="662.45" y="123.15" width="5.1" height="7.9" fill="#00f"/>
<rect x="670.65" y="135.55" width="5.1" height="7.9" fill="#00f"/>
<rect x="678.85" y="137.45" width="5.1" height="7.9" fill="#00f"/>
<rect x="687.05" y="138.65" width="5.1" height="7.9" fill="#00f"/>
<rect x="695.25" y="139.95" width="5.1" height="7.9" fill="#00f"/>
<rect x="703.45" y="158.35" width="5.1" height="7.9" fill="#00f"/>
<rect x="711.65" y="174.45" width="5.1" height="7.9" fill="#00f"/>
<rect x="719.85" y="153.75" width="5.1" height="7.9" fill="#00f"/>
<rect x="728.05" y="159.65" width="5.1" height="7.9" fill="#00f"/>
<rect x="736.25" y="165.35" width="5.1" height="7.9" fill="#00f"/>
<text transform="translate(502.82,249.95)" font-size="14.80" stroke="#000" stroke-width="0.15">24</text>
<text transform="translate(502.96,209.55)" font-size="14.80" stroke="#000" stroke-width="0.15">26</text>
<text transform="translate(502.96,169.15)" font-size="14.80" stroke="#000" stroke-width="0.15">28</text>
<text transform="translate(502.89,128.75)" font-size="14.80" stroke="#000" stroke-width="0.15">30</text>
<text transform="translate(503.11,88.35)" font-size="14.80" stroke="#000" stroke-width="0.15">32</text>
<text transform="translate(502.82,47.95)" font-size="14.80" stroke="#000" stroke-width="0.15">34</text>
<text transform="translate(514.64,265.8) scale(0.760,1)" font-size="16.50" stroke="#000" stroke-width="0.20">-10</text>
<text transform="translate(538.89,265.8) scale(0.760,1)" font-size="16.50" stroke="#000" stroke-width="0.20">0</text>
<text transform="translate(568.1,265.8) scale(0.760,1)" font-size="16.50" stroke="#000" stroke-width="0.20">20</text>
<text transform="translate(601.04,265.8) scale(0.760,1)" font-size="16.50" stroke="#000" stroke-width="0.20">40</text>
<text transform="translate(633.61,265.8) scale(0.760,1)" font-size="16.50" stroke="#000" stroke-width="0.20">60</text>
<text transform="translate(666.39,265.8) scale(0.760,1)" font-size="16.50" stroke="#000" stroke-width="0.20">80</text>
<text transform="translate(695.48,265.8) scale(0.760,1)" font-size="16.50" stroke="#000" stroke-width="0.20">100</text>
<text transform="translate(728.23,265.8) scale(0.760,1)" font-size="16.50" stroke="#000" stroke-width="0.20">120</text>
<text transform="translate(606.3,277.3) scale(1.012,1)" font-size="14.76" stroke="#000" stroke-width="0.15">Time (min)</text>
<text transform="translate(600.65,41.03) scale(1.015,1)" font-size="17.41" stroke="#000" stroke-width="0.15">Tail</text>
<line x1="53.2" y1="326.5" x2="53.2" y2="486.45" stroke="#8c8c8c" stroke-width="0.95" stroke-dasharray="1.7,1.6"/>
<path d="M36.4,326.5V486.45M36.4,486.45H261.2M30.4,486.45H36.4M30.4,446.55H36.4M30.4,406.65H36.4M30.4,366.75H36.4M30.4,326.85H36.4M36.42,486.45v6.5M53.35,486.45v6.5M70.28,486.45v6.5M87.21,486.45v6.5M104.14,486.45v6.5M121.07,486.45v6.5M138,486.45v6.5M154.93,486.45v6.5M171.86,486.45v6.5M188.79,486.45v6.5M205.72,486.45v6.5M222.65,486.45v6.5M239.58,486.45v6.5M256.51,486.45v6.5" stroke="#1e1e1e" stroke-width="1.2" fill="none"/>
<polygon points="36.3,399.4 44.75,398.4 53.2,388.8 61.65,398.4 70.1,379.2 78.55,374.4 87,371.5 95.45,372.5 103.9,383 112.35,385 120.8,385 129.25,383 137.7,390.7 146.15,393.6 154.6,395.5 163.05,399.3 171.5,408 179.95,404.1 188.4,403.2 196.85,405.1 205.3,410.8 213.75,402.2 222.2,400.3 230.65,399.3 239.1,395.5 247.55,400.3 256,404.1 256,418.5 247.55,416.6 239.1,414.7 230.65,418.5 222.2,421.4 213.75,425.2 205.3,431 196.85,428.1 188.4,425.2 179.95,425.2 171.5,426.2 163.05,415.6 154.6,414.7 146.15,417.6 137.7,414.7 129.25,404.2 120.8,405.1 112.35,403.2 103.9,398.4 95.45,383 87,382.1 78.55,386.9 70.1,395.5 61.65,409.9 53.2,397.4 44.75,407 36.3,408" fill="#ff0000" fill-opacity="0.25"/>
<polyline points="36.3,404.5 44.75,402 53.2,393 61.65,405.1 70.1,387.8 78.55,380.2 87,376.9 95.45,377.9 103.9,390.7 112.35,393.6 120.8,394.9 129.25,393 137.7,403.8 146.15,405.6 154.6,405.1 163.05,407.6 171.5,417.2 179.95,414.7 188.4,414.3 196.85,417.9 205.3,422.3 213.75,414.3 222.2,411.4 230.65,407 239.1,404.1 247.55,409.1 256,411.4" fill="none" stroke="#ff0000" stroke-width="1.2" stroke-linejoin="round"/>
<ellipse cx="36.3" cy="404.5" rx="3.1" ry="3.35" fill="#f00"/>
<ellipse cx="44.75" cy="402" rx="3.1" ry="3.35" fill="#f00"/>
<ellipse cx="53.2" cy="393" rx="3.1" ry="3.35" fill="#f00"/>
<ellipse cx="61.65" cy="405.1" rx="3.1" ry="3.35" fill="#f00"/>
<ellipse cx="70.1" cy="387.8" rx="3.1" ry="3.35" fill="#f00"/>
<ellipse cx="78.55" cy="380.2" rx="3.1" ry="3.35" fill="#f00"/>
<ellipse cx="87" cy="376.9" rx="3.1" ry="3.35" fill="#f00"/>
<ellipse cx="95.45" cy="377.9" rx="3.1" ry="3.35" fill="#f00"/>
<ellipse cx="103.9" cy="390.7" rx="3.1" ry="3.35" fill="#f00"/>
<ellipse cx="112.35" cy="393.6" rx="3.1" ry="3.35" fill="#f00"/>
<ellipse cx="120.8" cy="394.9" rx="3.1" ry="3.35" fill="#f00"/>
<ellipse cx="129.25" cy="393" rx="3.1" ry="3.35" fill="#f00"/>
<ellipse cx="137.7" cy="403.8" rx="3.1" ry="3.35" fill="#f00"/>
<ellipse cx="146.15" cy="405.6" rx="3.1" ry="3.35" fill="#f00"/>
<ellipse cx="154.6" cy="405.1" rx="3.1" ry="3.35" fill="#f00"/>
<ellipse cx="163.05" cy="407.6" rx="3.1" ry="3.35" fill="#f00"/>
<ellipse cx="171.5" cy="417.2" rx="3.1" ry="3.35" fill="#f00"/>
<ellipse cx="179.95" cy="414.7" rx="3.1" ry="3.35" fill="#f00"/>
<ellipse cx="188.4" cy="414.3" rx="3.1" ry="3.35" fill="#f00"/>
<ellipse cx="196.85" cy="417.9" rx="3.1" ry="3.35" fill="#f00"/>
<ellipse cx="205.3" cy="422.3" rx="3.1" ry="3.35" fill="#f00"/>
<ellipse cx="213.75" cy="414.3" rx="3.1" ry="3.35" fill="#f00"/>
<ellipse cx="222.2" cy="411.4" rx="3.1" ry="3.35" fill="#f00"/>
<ellipse cx="230.65" cy="407" rx="3.1" ry="3.35" fill="#f00"/>
<ellipse cx="239.1" cy="404.1" rx="3.1" ry="3.35" fill="#f00"/>
<ellipse cx="247.55" cy="409.1" rx="3.1" ry="3.35" fill="#f00"/>
<ellipse cx="256" cy="411.4" rx="3.1" ry="3.35" fill="#f00"/>
<polygon points="36.3,404.2 44.75,397.5 53.2,393.5 61.65,391.7 70.1,387.8 78.55,388.8 87,386.9 95.45,396.5 103.9,404.2 112.35,409.9 120.8,418.6 129.25,419.5 137.7,422.4 146.15,420.5 154.6,425.2 163.05,428.1 171.5,431 179.95,436.7 188.4,435.8 196.85,431 205.3,428.1 213.75,422.3 222.2,423.3 230.65,425.2 239.1,431 247.55,426.2 256,425.2 256,450.1 247.55,452.1 239.1,454 230.65,446.3 222.2,442.5 213.75,440.6 205.3,446.3 196.85,450.1 188.4,454.9 179.95,455.9 171.5,451.1 163.05,447.3 154.6,442.5 146.15,436.8 137.7,441.6 129.25,435.8 120.8,435.8 112.35,430.1 103.9,424.3 95.45,417.6 87,404.2 78.55,401.3 70.1,396.5 61.65,402.2 53.2,409 44.75,409.9 36.3,413.8" fill="#d7d7d7" fill-opacity="1"/>
<polyline points="36.3,410.3 44.75,405.1 53.2,401.9 61.65,396.9 70.1,391.3 78.55,395.1 87,395.9 95.45,407.6 103.9,413.8 112.35,420.5 120.8,429.1 129.25,429.1 137.7,433.5 146.15,427.3 154.6,433.8 163.05,438.6 171.5,442.1 179.95,446.3 188.4,445.3 196.85,441.5 205.3,438.3 213.75,431.3 222.2,432.5 230.65,435.4 239.1,442.5 247.55,439.6 256,438.6" fill="none" stroke="#000" stroke-width="1.2" stroke-linejoin="round"/>
<ellipse cx="36.3" cy="410.3" rx="2.75" ry="3" fill="none" stroke="#000" stroke-width="1.1"/>
<ellipse cx="44.75" cy="405.1" rx="2.75" ry="3" fill="none" stroke="#000" stroke-width="1.1"/>
<ellipse cx="53.2" cy="401.9" rx="2.75" ry="3" fill="none" stroke="#000" stroke-width="1.1"/>
<ellipse cx="61.65" cy="396.9" rx="2.75" ry="3" fill="none" stroke="#000" stroke-width="1.1"/>
<ellipse cx="70.1" cy="391.3" rx="2.75" ry="3" fill="none" stroke="#000" stroke-width="1.1"/>
<ellipse cx="78.55" cy="395.1" rx="2.75" ry="3" fill="none" stroke="#000" stroke-width="1.1"/>
<ellipse cx="87" cy="395.9" rx="2.75" ry="3" fill="none" stroke="#000" stroke-width="1.1"/>
<ellipse cx="95.45" cy="407.6" rx="2.75" ry="3" fill="none" stroke="#000" stroke-width="1.1"/>
<ellipse cx="103.9" cy="413.8" rx="2.75" ry="3" fill="none" stroke="#000" stroke-width="1.1"/>
<ellipse cx="112.35" cy="420.5" rx="2.75" ry="3" fill="none" stroke="#000" stroke-width="1.1"/>
<ellipse cx="120.8" cy="429.1" rx="2.75" ry="3" fill="none" stroke="#000" stroke-width="1.1"/>
<ellipse cx="129.25" cy="429.1" rx="2.75" ry="3" fill="none" stroke="#000" stroke-width="1.1"/>
<ellipse cx="137.7" cy="433.5" rx="2.75" ry="3" fill="none" stroke="#000" stroke-width="1.1"/>
<ellipse cx="146.15" cy="427.3" rx="2.75" ry="3" fill="none" stroke="#000" stroke-width="1.1"/>
<ellipse cx="154.6" cy="433.8" rx="2.75" ry="3" fill="none" stroke="#000" stroke-width="1.1"/>
<ellipse cx="163.05" cy="438.6" rx="2.75" ry="3" fill="none" stroke="#000" stroke-width="1.1"/>
<ellipse cx="171.5" cy="442.1" rx="2.75" ry="3" fill="none" stroke="#000" stroke-width="1.1"/>
<ellipse cx="179.95" cy="446.3" rx="2.75" ry="3" fill="none" stroke="#000" stroke-width="1.1"/>
<ellipse cx="188.4" cy="445.3" rx="2.75" ry="3" fill="none" stroke="#000" stroke-width="1.1"/>
<ellipse cx="196.85" cy="441.5" rx="2.75" ry="3" fill="none" stroke="#000" stroke-width="1.1"/>
<ellipse cx="205.3" cy="438.3" rx="2.75" ry="3" fill="none" stroke="#000" stroke-width="1.1"/>
<ellipse cx="213.75" cy="431.3" rx="2.75" ry="3" fill="none" stroke="#000" stroke-width="1.1"/>
<ellipse cx="222.2" cy="432.5" rx="2.75" ry="3" fill="none" stroke="#000" stroke-width="1.1"/>
<ellipse cx="230.65" cy="435.4" rx="2.75" ry="3" fill="none" stroke="#000" stroke-width="1.1"/>
<ellipse cx="239.1" cy="442.5" rx="2.75" ry="3" fill="none" stroke="#000" stroke-width="1.1"/>
<ellipse cx="247.55" cy="439.6" rx="2.75" ry="3" fill="none" stroke="#000" stroke-width="1.1"/>
<ellipse cx="256" cy="438.6" rx="2.75" ry="3" fill="none" stroke="#000" stroke-width="1.1"/>
<text transform="translate(16.46,491.05) scale(0.830,1)" font-size="14.80" stroke="#000" stroke-width="0.18">35</text>
<text transform="translate(16.46,451.15) scale(0.830,1)" font-size="14.80" stroke="#000" stroke-width="0.18">36</text>
<text transform="translate(16.58,411.25) scale(0.830,1)" font-size="14.80" stroke="#000" stroke-width="0.18">37</text>
<text transform="translate(16.46,371.35) scale(0.830,1)" font-size="14.80" stroke="#000" stroke-width="0.18">38</text>
<text transform="translate(16.52,331.45) scale(0.830,1)" font-size="14.80" stroke="#000" stroke-width="0.18">39</text>
<text transform="translate(25.03,505.9) scale(0.760,1)" font-size="16.50" stroke="#000" stroke-width="0.20">-10</text>
<text transform="translate(49.84,505.9) scale(0.760,1)" font-size="16.50" stroke="#000" stroke-width="0.20">0</text>
<text transform="translate(80.16,505.9) scale(0.760,1)" font-size="16.50" stroke="#000" stroke-width="0.20">20</text>
<text transform="translate(114.2,505.9) scale(0.760,1)" font-size="16.50" stroke="#000" stroke-width="0.20">40</text>
<text transform="translate(147.88,505.9) scale(0.760,1)" font-size="16.50" stroke="#000" stroke-width="0.20">60</text>
<text transform="translate(181.77,505.9) scale(0.760,1)" font-size="16.50" stroke="#000" stroke-width="0.20">80</text>
<text transform="translate(211.96,505.9) scale(0.760,1)" font-size="16.50" stroke="#000" stroke-width="0.20">100</text>
<text transform="translate(245.82,505.9) scale(0.760,1)" font-size="16.50" stroke="#000" stroke-width="0.20">120</text>
<text transform="translate(119.8,517.42) scale(1.017,1)" font-size="14.65" stroke="#000" stroke-width="0.15">Time (min)</text>
<text transform="translate(12.93,468.32) rotate(-90) scale(0.974,1)" font-size="16.54" stroke="#000" stroke-width="0.15">Temperature °C</text>
<text transform="translate(113.19,333) scale(0.968,1)" font-size="18.26" stroke="#000" stroke-width="0.15">BAT</text>
<path d="M157,342.4H169.4" stroke="#333" stroke-width="1.1"/>
<path d="M157,355.4H169.4" stroke="#f00" stroke-width="1.1"/>
<ellipse cx="163.5" cy="342.6" rx="2.0" ry="2.4" fill="none" stroke="#000" stroke-width="1.1"/>
<ellipse cx="163.5" cy="355.6" rx="2.4" ry="2.85" fill="#f00"/>
<text transform="translate(172.15,348.36) scale(1.027,1)" font-size="14.15" stroke="#000" stroke-width="0.15">Saline</text>
<text transform="translate(171.7,362.65) scale(0.960,1)" font-size="15.21" stroke="#000" stroke-width="0.16">U50</text>
<line x1="298" y1="325.4" x2="298" y2="486.45" stroke="#8c8c8c" stroke-width="0.95" stroke-dasharray="1.7,1.6"/>
<path d="M281.1,325.4V486.45M276.4,486.45H505.3M275.1,459.05H281.1M275.1,405.75H281.1M275.1,352.45H281.1M281.4,486.45v6.5M298.27,486.45v6.5M315.14,486.45v6.5M332.01,486.45v6.5M348.88,486.45v6.5M365.75,486.45v6.5M382.62,486.45v6.5M399.49,486.45v6.5M416.36,486.45v6.5M433.23,486.45v6.5M450.1,486.45v6.5M466.97,486.45v6.5M483.84,486.45v6.5M500.71,486.45v6.5" stroke="#1e1e1e" stroke-width="1.2" fill="none"/>
<polygon points="281.14,419.6 289.57,402.3 298,402.3 306.43,410 314.86,404.2 323.29,403.2 331.72,404.2 340.15,408 348.58,410 357.01,409 365.44,407.1 373.87,400.4 382.3,413.8 390.73,412.8 399.16,412.8 407.59,414.7 416.02,415.7 424.45,421.4 432.88,411.9 441.31,430.1 449.74,417.6 458.17,423.4 466.6,415.7 475.03,415.7 483.46,413.8 491.89,419.5 500.32,419.5 500.32,433 491.89,431 483.46,428.2 475.03,426.2 466.6,436.8 458.17,438.7 449.74,440.6 441.31,448.3 432.88,446.4 424.45,442.5 416.02,426.2 407.59,428.2 399.16,425.3 390.73,427.2 382.3,430.1 373.87,428.2 365.44,431.1 357.01,428.2 348.58,429.2 340.15,426.3 331.72,420.5 323.29,420.5 314.86,417.6 306.43,426.3 298,415.7 289.57,418.6 281.14,434" fill="#ff0000" fill-opacity="0.25"/>
<polyline points="281.14,431.5 289.57,410.9 298,407.7 306.43,418.6 314.86,409.9 323.29,411.3 331.72,411.9 340.15,417.3 348.58,420.1 357.01,417.6 365.44,420.1 373.87,407.5 382.3,424.7 390.73,419.5 399.16,418.9 407.59,421.4 416.02,420.9 424.45,433.9 432.88,429.1 441.31,440.6 449.74,430.5 458.17,436.8 466.6,429.1 475.03,420.9 483.46,422.4 491.89,425.7 500.32,426.2" fill="none" stroke="#ff0000" stroke-width="1.2" stroke-linejoin="round"/>
<ellipse cx="281.14" cy="431.5" rx="2.6" ry="2.6" fill="#f00"/>
<ellipse cx="289.57" cy="410.9" rx="2.6" ry="2.6" fill="#f00"/>
<ellipse cx="298" cy="407.7" rx="2.6" ry="2.6" fill="#f00"/>
<ellipse cx="306.43" cy="418.6" rx="2.6" ry="2.6" fill="#f00"/>
<ellipse cx="314.86" cy="409.9" rx="2.6" ry="2.6" fill="#f00"/>
<ellipse cx="323.29" cy="411.3" rx="2.6" ry="2.6" fill="#f00"/>
<ellipse cx="331.72" cy="411.9" rx="2.6" ry="2.6" fill="#f00"/>
<ellipse cx="340.15" cy="417.3" rx="2.6" ry="2.6" fill="#f00"/>
<ellipse cx="348.58" cy="420.1" rx="2.6" ry="2.6" fill="#f00"/>
<ellipse cx="357.01" cy="417.6" rx="2.6" ry="2.6" fill="#f00"/>
<ellipse cx="365.44" cy="420.1" rx="2.6" ry="2.6" fill="#f00"/>
<ellipse cx="373.87" cy="407.5" rx="2.6" ry="2.6" fill="#f00"/>
<ellipse cx="382.3" cy="424.7" rx="2.6" ry="2.6" fill="#f00"/>
<ellipse cx="390.73" cy="419.5" rx="2.6" ry="2.6" fill="#f00"/>
<ellipse cx="399.16" cy="418.9" rx="2.6" ry="2.6" fill="#f00"/>
<ellipse cx="407.59" cy="421.4" rx="2.6" ry="2.6" fill="#f00"/>
<ellipse cx="416.02" cy="420.9" rx="2.6" ry="2.6" fill="#f00"/>
<ellipse cx="424.45" cy="433.9" rx="2.6" ry="2.6" fill="#f00"/>
<ellipse cx="432.88" cy="429.1" rx="2.6" ry="2.6" fill="#f00"/>
<ellipse cx="441.31" cy="440.6" rx="2.6" ry="2.6" fill="#f00"/>
<ellipse cx="449.74" cy="430.5" rx="2.6" ry="2.6" fill="#f00"/>
<ellipse cx="458.17" cy="436.8" rx="2.6" ry="2.6" fill="#f00"/>
<ellipse cx="466.6" cy="429.1" rx="2.6" ry="2.6" fill="#f00"/>
<ellipse cx="475.03" cy="420.9" rx="2.6" ry="2.6" fill="#f00"/>
<ellipse cx="483.46" cy="422.4" rx="2.6" ry="2.6" fill="#f00"/>
<ellipse cx="491.89" cy="425.7" rx="2.6" ry="2.6" fill="#f00"/>
<ellipse cx="500.32" cy="426.2" rx="2.6" ry="2.6" fill="#f00"/>
<polygon points="281.14,419.6 289.57,418.6 298,419.6 306.43,404.2 314.86,404.2 323.29,417.6 331.72,424.4 340.15,420.5 348.58,424.4 357.01,435.9 365.44,430.1 373.87,429.2 382.3,444.5 390.73,439.7 399.16,451.2 407.59,448.3 416.02,447.3 424.45,443.5 432.88,448.3 441.31,452.1 449.74,440.6 458.17,438.7 466.6,437.7 475.03,437.7 483.46,436.8 491.89,438.7 500.32,440.6 500.32,467.5 491.89,467.5 483.46,466.5 475.03,467.5 466.6,467.5 458.17,466.5 449.74,463.6 441.31,477.1 432.88,480.9 424.45,464.6 416.02,471.3 407.59,470.3 399.16,472.3 390.73,458.4 382.3,463.7 373.87,446.4 365.44,446.4 357.01,454.1 348.58,435.9 340.15,430.1 331.72,436.8 323.29,433 314.86,415 306.43,416 298,435.9 289.57,432 281.14,430.1" fill="#d7d7d7" fill-opacity="1"/>
<polyline points="281.14,424.4 289.57,424 298,428.2 306.43,410.3 314.86,410 323.29,424.7 331.72,430.5 340.15,424.7 348.58,430.5 357.01,444.9 365.44,439.3 373.87,439.3 382.3,456 390.73,449.1 399.16,461.7 407.59,460.4 416.02,459.4 424.45,453.1 432.88,465.6 441.31,463.3 449.74,453.1 458.17,453.1 466.6,453.1 475.03,452.5 483.46,452.1 491.89,453.1 500.32,454.4" fill="none" stroke="#000" stroke-width="1.2" stroke-linejoin="round"/>
<ellipse cx="281.14" cy="424.4" rx="2.35" ry="2.35" fill="none" stroke="#000" stroke-width="1.1"/>
<ellipse cx="289.57" cy="424" rx="2.35" ry="2.35" fill="none" stroke="#000" stroke-width="1.1"/>
<ellipse cx="298" cy="428.2" rx="2.35" ry="2.35" fill="none" stroke="#000" stroke-width="1.1"/>
<ellipse cx="306.43" cy="410.3" rx="2.35" ry="2.35" fill="none" stroke="#000" stroke-width="1.1"/>
<ellipse cx="314.86" cy="410" rx="2.35" ry="2.35" fill="none" stroke="#000" stroke-width="1.1"/>
<ellipse cx="323.29" cy="424.7" rx="2.35" ry="2.35" fill="none" stroke="#000" stroke-width="1.1"/>
<ellipse cx="331.72" cy="430.5" rx="2.35" ry="2.35" fill="none" stroke="#000" stroke-width="1.1"/>
<ellipse cx="340.15" cy="424.7" rx="2.35" ry="2.35" fill="none" stroke="#000" stroke-width="1.1"/>
<ellipse cx="348.58" cy="430.5" rx="2.35" ry="2.35" fill="none" stroke="#000" stroke-width="1.1"/>
<ellipse cx="357.01" cy="444.9" rx="2.35" ry="2.35" fill="none" stroke="#000" stroke-width="1.1"/>
<ellipse cx="365.44" cy="439.3" rx="2.35" ry="2.35" fill="none" stroke="#000" stroke-width="1.1"/>
<ellipse cx="373.87" cy="439.3" rx="2.35" ry="2.35" fill="none" stroke="#000" stroke-width="1.1"/>
<ellipse cx="382.3" cy="456" rx="2.35" ry="2.35" fill="none" stroke="#000" stroke-width="1.1"/>
<ellipse cx="390.73" cy="449.1" rx="2.35" ry="2.35" fill="none" stroke="#000" stroke-width="1.1"/>
<ellipse cx="399.16" cy="461.7" rx="2.35" ry="2.35" fill="none" stroke="#000" stroke-width="1.1"/>
<ellipse cx="407.59" cy="460.4" rx="2.35" ry="2.35" fill="none" stroke="#000" stroke-width="1.1"/>
<ellipse cx="416.02" cy="459.4" rx="2.35" ry="2.35" fill="none" stroke="#000" stroke-width="1.1"/>
<ellipse cx="424.45" cy="453.1" rx="2.35" ry="2.35" fill="none" stroke="#000" stroke-width="1.1"/>
<ellipse cx="432.88" cy="465.6" rx="2.35" ry="2.35" fill="none" stroke="#000" stroke-width="1.1"/>
<ellipse cx="441.31" cy="463.3" rx="2.35" ry="2.35" fill="none" stroke="#000" stroke-width="1.1"/>
<ellipse cx="449.74" cy="453.1" rx="2.35" ry="2.35" fill="none" stroke="#000" stroke-width="1.1"/>
<ellipse cx="458.17" cy="453.1" rx="2.35" ry="2.35" fill="none" stroke="#000" stroke-width="1.1"/>
<ellipse cx="466.6" cy="453.1" rx="2.35" ry="2.35" fill="none" stroke="#000" stroke-width="1.1"/>
<ellipse cx="475.03" cy="452.5" rx="2.35" ry="2.35" fill="none" stroke="#000" stroke-width="1.1"/>
<ellipse cx="483.46" cy="452.1" rx="2.35" ry="2.35" fill="none" stroke="#000" stroke-width="1.1"/>
<ellipse cx="491.89" cy="453.1" rx="2.35" ry="2.35" fill="none" stroke="#000" stroke-width="1.1"/>
<ellipse cx="500.32" cy="454.4" rx="2.35" ry="2.35" fill="none" stroke="#000" stroke-width="1.1"/>
<text transform="translate(259.96,464.55)" font-size="14.80" stroke="#000" stroke-width="0.15">35</text>
<text transform="translate(259.96,411.25)" font-size="14.80" stroke="#000" stroke-width="0.15">36</text>
<text transform="translate(260.11,357.95)" font-size="14.80" stroke="#000" stroke-width="0.15">37</text>
<text transform="translate(270.01,505.9) scale(0.760,1)" font-size="16.50" stroke="#000" stroke-width="0.20">-10</text>
<text transform="translate(294.76,505.9) scale(0.760,1)" font-size="16.50" stroke="#000" stroke-width="0.20">0</text>
<text transform="translate(324.96,505.9) scale(0.760,1)" font-size="16.50" stroke="#000" stroke-width="0.20">20</text>
<text transform="translate(358.88,505.9) scale(0.760,1)" font-size="16.50" stroke="#000" stroke-width="0.20">40</text>
<text transform="translate(392.44,505.9) scale(0.760,1)" font-size="16.50" stroke="#000" stroke-width="0.20">60</text>
<text transform="translate(426.21,505.9) scale(0.760,1)" font-size="16.50" stroke="#000" stroke-width="0.20">80</text>
<text transform="translate(456.28,505.9) scale(0.760,1)" font-size="16.50" stroke="#000" stroke-width="0.20">100</text>
<text transform="translate(490.02,505.9) scale(0.760,1)" font-size="16.50" stroke="#000" stroke-width="0.20">120</text>
<text transform="translate(365.7,517.32) scale(1.012,1)" font-size="14.65" stroke="#000" stroke-width="0.15">Time (min)</text>
<text transform="translate(373.58,332.98) scale(0.992,1)" font-size="17.94" stroke="#000" stroke-width="0.15">Eye</text>
<line x1="541.4" y1="323.2" x2="541.4" y2="486.45" stroke="#8c8c8c" stroke-width="0.95" stroke-dasharray="1.7,1.6"/>
<path d="M525.4,323.2V486.45M520.4,486.45H737.1M519.4,471.4H525.4M519.4,441.88H525.4M519.4,412.36H525.4M519.4,382.84H525.4M519.4,353.32H525.4M519.4,323.8H525.4M525.4,486.45v6.5M541.65,486.45v6.5M557.9,486.45v6.5M574.16,486.45v6.5M590.41,486.45v6.5M606.67,486.45v6.5M622.92,486.45v6.5M639.17,486.45v6.5M655.43,486.45v6.5M671.68,486.45v6.5M687.94,486.45v6.5M704.19,486.45v6.5M720.44,486.45v6.5M736.7,486.45v6.5" stroke="#1e1e1e" stroke-width="1.2" fill="none"/>
<polygon points="525.12,456.8 533.31,456.1 541.5,459.2 549.69,453 557.88,450.7 566.07,445.3 574.26,425.4 582.45,432.3 590.64,423.8 598.83,431.5 607.02,430 615.21,435.4 623.4,440.7 631.59,444.6 639.78,449 647.97,452 656.16,455 664.35,454 672.54,447 680.73,454 688.92,460 697.11,452 705.3,451 713.49,454 721.68,453 729.87,453 738.06,455 738.06,465 729.87,463 721.68,463 713.49,464 705.3,461 697.11,462 688.92,470 680.73,465 672.54,458 664.35,464 656.16,465 647.97,463 639.78,460 631.59,456.8 623.4,453.8 615.21,452.2 607.02,450.7 598.83,454.5 590.64,445.3 582.45,449.9 574.26,449.9 566.07,456.8 557.88,459.2 549.69,458.4 541.5,466.1 533.31,462.2 525.12,463.8" fill="#ff0000" fill-opacity="0.25"/>
<polyline points="525.12,460.7 533.31,459.2 541.5,464.1 549.69,455.6 557.88,455.3 566.07,452.2 574.26,436.1 582.45,443 590.64,435.4 598.83,443 607.02,440 615.21,444.3 623.4,445.8 631.59,451.6 639.78,454.7 647.97,458.1 656.16,460.2 664.35,459.1 672.54,453.1 680.73,459.4 688.92,466.2 697.11,457 705.3,456.2 713.49,459.7 721.68,458.6 729.87,458.6 738.06,461" fill="none" stroke="#ff0000" stroke-width="1.2" stroke-linejoin="round"/>
<ellipse cx="525.12" cy="460.7" rx="2.95" ry="3.05" fill="#f00"/>
<ellipse cx="533.31" cy="459.2" rx="2.95" ry="3.05" fill="#f00"/>
<ellipse cx="541.5" cy="464.1" rx="2.95" ry="3.05" fill="#f00"/>
<ellipse cx="549.69" cy="455.6" rx="2.95" ry="3.05" fill="#f00"/>
<ellipse cx="557.88" cy="455.3" rx="2.95" ry="3.05" fill="#f00"/>
<ellipse cx="566.07" cy="452.2" rx="2.95" ry="3.05" fill="#f00"/>
<ellipse cx="574.26" cy="436.1" rx="2.95" ry="3.05" fill="#f00"/>
<ellipse cx="582.45" cy="443" rx="2.95" ry="3.05" fill="#f00"/>
<ellipse cx="590.64" cy="435.4" rx="2.95" ry="3.05" fill="#f00"/>
<ellipse cx="598.83" cy="443" rx="2.95" ry="3.05" fill="#f00"/>
<ellipse cx="607.02" cy="440" rx="2.95" ry="3.05" fill="#f00"/>
<ellipse cx="615.21" cy="444.3" rx="2.95" ry="3.05" fill="#f00"/>
<ellipse cx="623.4" cy="445.8" rx="2.95" ry="3.05" fill="#f00"/>
<ellipse cx="631.59" cy="451.6" rx="2.95" ry="3.05" fill="#f00"/>
<ellipse cx="639.78" cy="454.7" rx="2.95" ry="3.05" fill="#f00"/>
<ellipse cx="647.97" cy="458.1" rx="2.95" ry="3.05" fill="#f00"/>
<ellipse cx="656.16" cy="460.2" rx="2.95" ry="3.05" fill="#f00"/>
<ellipse cx="664.35" cy="459.1" rx="2.95" ry="3.05" fill="#f00"/>
<ellipse cx="672.54" cy="453.1" rx="2.95" ry="3.05" fill="#f00"/>
<ellipse cx="680.73" cy="459.4" rx="2.95" ry="3.05" fill="#f00"/>
<ellipse cx="688.92" cy="466.2" rx="2.95" ry="3.05" fill="#f00"/>
<ellipse cx="697.11" cy="457" rx="2.95" ry="3.05" fill="#f00"/>
<ellipse cx="705.3" cy="456.2" rx="2.95" ry="3.05" fill="#f00"/>
<ellipse cx="713.49" cy="459.7" rx="2.95" ry="3.05" fill="#f00"/>
<ellipse cx="721.68" cy="458.6" rx="2.95" ry="3.05" fill="#f00"/>
<ellipse cx="729.87" cy="458.6" rx="2.95" ry="3.05" fill="#f00"/>
<ellipse cx="738.06" cy="461" rx="2.95" ry="3.05" fill="#f00"/>
<polygon points="525.12,452.5 533.31,453.3 541.5,453.3 549.69,451.3 557.88,449.8 566.07,447.9 574.26,450.7 582.45,447.9 590.64,444.4 598.83,444.4 607.02,442.6 615.21,444.1 623.4,440.7 631.59,442.2 639.78,440.9 647.97,443 656.16,448.8 664.35,448 672.54,447.7 680.73,443 688.92,446.1 697.11,445.2 705.3,445.2 713.49,446.1 721.68,444.1 729.87,445.2 738.06,440.4 738.06,449 729.87,453.8 721.68,452.7 713.49,454.7 705.3,453.8 697.11,453.8 688.92,454.7 680.73,451.6 672.54,456.3 664.35,456.6 656.16,457.4 647.97,451.6 639.78,449.5 631.59,450.8 623.4,449.3 615.21,452.7 607.02,451.2 598.83,453 590.64,453 582.45,456.5 574.26,459.3 566.07,456.5 557.88,458.4 549.69,459.9 541.5,461.9 533.31,461.9 525.12,461.1" fill="#000000" fill-opacity="0.13"/>
<polyline points="525.12,456.8 533.31,457.6 541.5,457.6 549.69,455.6 557.88,454.1 566.07,452.2 574.26,455 582.45,452.2 590.64,448.7 598.83,448.7 607.02,446.9 615.21,448.4 623.4,445 631.59,446.5 639.78,445.2 647.97,447.3 656.16,453.1 664.35,452.3 672.54,452 680.73,447.3 688.92,450.4 697.11,449.5 705.3,449.5 713.49,450.4 721.68,448.4 729.87,449.5 738.06,444.7" fill="none" stroke="#000" stroke-width="1.2" stroke-linejoin="round"/>
<ellipse cx="525.12" cy="456.8" rx="2.7" ry="2.7" fill="none" stroke="#000" stroke-width="1.1"/>
<ellipse cx="533.31" cy="457.6" rx="2.7" ry="2.7" fill="none" stroke="#000" stroke-width="1.1"/>
<ellipse cx="541.5" cy="457.6" rx="2.7" ry="2.7" fill="none" stroke="#000" stroke-width="1.1"/>
<ellipse cx="549.69" cy="455.6" rx="2.7" ry="2.7" fill="none" stroke="#000" stroke-width="1.1"/>
<ellipse cx="557.88" cy="454.1" rx="2.7" ry="2.7" fill="none" stroke="#000" stroke-width="1.1"/>
<ellipse cx="566.07" cy="452.2" rx="2.7" ry="2.7" fill="none" stroke="#000" stroke-width="1.1"/>
<ellipse cx="574.26" cy="455" rx="2.7" ry="2.7" fill="none" stroke="#000" stroke-width="1.1"/>
<ellipse cx="582.45" cy="452.2" rx="2.7" ry="2.7" fill="none" stroke="#000" stroke-width="1.1"/>
<ellipse cx="590.64" cy="448.7" rx="2.7" ry="2.7" fill="none" stroke="#000" stroke-width="1.1"/>
<ellipse cx="598.83" cy="448.7" rx="2.7" ry="2.7" fill="none" stroke="#000" stroke-width="1.1"/>
<ellipse cx="607.02" cy="446.9" rx="2.7" ry="2.7" fill="none" stroke="#000" stroke-width="1.1"/>
<ellipse cx="615.21" cy="448.4" rx="2.7" ry="2.7" fill="none" stroke="#000" stroke-width="1.1"/>
<ellipse cx="623.4" cy="445" rx="2.7" ry="2.7" fill="none" stroke="#000" stroke-width="1.1"/>
<ellipse cx="631.59" cy="446.5" rx="2.7" ry="2.7" fill="none" stroke="#000" stroke-width="1.1"/>
<ellipse cx="639.78" cy="445.2" rx="2.7" ry="2.7" fill="none" stroke="#000" stroke-width="1.1"/>
<ellipse cx="647.97" cy="447.3" rx="2.7" ry="2.7" fill="none" stroke="#000" stroke-width="1.1"/>
<ellipse cx="656.16" cy="453.1" rx="2.7" ry="2.7" fill="none" stroke="#000" stroke-width="1.1"/>
<ellipse cx="664.35" cy="452.3" rx="2.7" ry="2.7" fill="none" stroke="#000" stroke-width="1.1"/>
<ellipse cx="672.54" cy="452" rx="2.7" ry="2.7" fill="none" stroke="#000" stroke-width="1.1"/>
<ellipse cx="680.73" cy="447.3" rx="2.7" ry="2.7" fill="none" stroke="#000" stroke-width="1.1"/>
<ellipse cx="688.92" cy="450.4" rx="2.7" ry="2.7" fill="none" stroke="#000" stroke-width="1.1"/>
<ellipse cx="697.11" cy="449.5" rx="2.7" ry="2.7" fill="none" stroke="#000" stroke-width="1.1"/>
<ellipse cx="705.3" cy="449.5" rx="2.7" ry="2.7" fill="none" stroke="#000" stroke-width="1.1"/>
<ellipse cx="713.49" cy="450.4" rx="2.7" ry="2.7" fill="none" stroke="#000" stroke-width="1.1"/>
<ellipse cx="721.68" cy="448.4" rx="2.7" ry="2.7" fill="none" stroke="#000" stroke-width="1.1"/>
<ellipse cx="729.87" cy="449.5" rx="2.7" ry="2.7" fill="none" stroke="#000" stroke-width="1.1"/>
<ellipse cx="738.06" cy="444.7" rx="2.7" ry="2.7" fill="none" stroke="#000" stroke-width="1.1"/>
<text transform="translate(502.22,476.1)" font-size="14.80" stroke="#000" stroke-width="0.15">24</text>
<text transform="translate(502.36,446.58)" font-size="14.80" stroke="#000" stroke-width="0.15">26</text>
<text transform="translate(502.36,417.06)" font-size="14.80" stroke="#000" stroke-width="0.15">28</text>
<text transform="translate(502.29,387.54)" font-size="14.80" stroke="#000" stroke-width="0.15">30</text>
<text transform="translate(502.51,358.02)" font-size="14.80" stroke="#000" stroke-width="0.15">32</text>
<text transform="translate(502.22,328.5)" font-size="14.80" stroke="#000" stroke-width="0.15">34</text>
<text transform="translate(514.01,505.9) scale(0.760,1)" font-size="16.50" stroke="#000" stroke-width="0.20">-10</text>
<text transform="translate(538.14,505.9) scale(0.760,1)" font-size="16.50" stroke="#000" stroke-width="0.20">0</text>
<text transform="translate(567.1,505.9) scale(0.760,1)" font-size="16.50" stroke="#000" stroke-width="0.20">20</text>
<text transform="translate(599.8,505.9) scale(0.760,1)" font-size="16.50" stroke="#000" stroke-width="0.20">40</text>
<text transform="translate(632.12,505.9) scale(0.760,1)" font-size="16.50" stroke="#000" stroke-width="0.20">60</text>
<text transform="translate(664.66,505.9) scale(0.760,1)" font-size="16.50" stroke="#000" stroke-width="0.20">80</text>
<text transform="translate(693.5,505.9) scale(0.760,1)" font-size="16.50" stroke="#000" stroke-width="0.20">100</text>
<text transform="translate(726.01,505.9) scale(0.760,1)" font-size="16.50" stroke="#000" stroke-width="0.20">120</text>
<text transform="translate(605.4,517.32) scale(1.013,1)" font-size="14.65" stroke="#000" stroke-width="0.15">Time (min)</text>
<text transform="translate(593.55,333.03) scale(1.019,1)" font-size="17.41" stroke="#000" stroke-width="0.15">Tail</text>
<g clip-path="url(#clipC)">
<rect x="663.2" y="27.8" width="84" height="76.8" fill="#5e12aa"/>
<rect x="663.2" y="27.8" width="30" height="76.8" fill="#5010a8" filter="url(#bl3)" opacity="0.7"/>
<ellipse cx="720" cy="84" rx="44" ry="40" fill="url(#gC)"/>
<ellipse cx="745" cy="88" rx="12" ry="22" fill="#d0307a" filter="url(#bl3)" opacity="0.55"/>
<rect x="663" y="100" width="85" height="6" fill="#9a1c9a" filter="url(#bl2)" opacity="0.6"/>
<circle cx="692" cy="46" r="0.7" fill="#c03080" opacity="0.6"/>
<circle cx="695" cy="50" r="0.7" fill="#c03080" opacity="0.6"/>
<circle cx="698" cy="44" r="0.7" fill="#c03080" opacity="0.6"/>
<circle cx="700" cy="52" r="0.7" fill="#c03080" opacity="0.6"/>
<circle cx="694" cy="55" r="0.7" fill="#c03080" opacity="0.6"/>
<circle cx="702" cy="48" r="0.7" fill="#c03080" opacity="0.6"/>
<circle cx="697" cy="57" r="0.7" fill="#c03080" opacity="0.6"/>
<circle cx="683.6" cy="45.5" r="3.2" fill="#22085a" filter="url(#bl05)" opacity="0.95"/>
<circle cx="699.4" cy="33.7" r="2.3" fill="#22085a" filter="url(#bl05)" opacity="0.95"/>
<circle cx="732.4" cy="31.3" r="2.7" fill="#22085a" filter="url(#bl05)" opacity="0.95"/>
<circle cx="734" cy="45.5" r="2.0" fill="#22085a" filter="url(#bl05)" opacity="0.95"/>
<circle cx="742.7" cy="58" r="2.7" fill="#22085a" filter="url(#bl05)" opacity="0.95"/>
<circle cx="719" cy="99" r="1.8" fill="#22085a" filter="url(#bl05)" opacity="0.95"/>
<circle cx="665.5" cy="52" r="1.3" fill="#22085a" filter="url(#bl05)" opacity="0.95"/>
<path d="M677,97.5 C672,96 668,91 665.5,81" stroke="#b82a7a" stroke-width="2.2" fill="none" stroke-linecap="round" filter="url(#bl05)" opacity="0.85"/>
<path d="M702,97.2 C692,98.4 683,99 676.5,97.3" stroke="#ff4a40" stroke-width="5" fill="none" stroke-linecap="round" filter="url(#bl1)" opacity="0.75"/>
<path d="M702,97.2 C692,98.2 683,98.6 677,97.2" stroke="#ffb020" stroke-width="2.6" fill="none" stroke-linecap="round" filter="url(#bl05)"/>
<path d="M699.5,101 L701.5,86 L703,78 L711,70 L721,62.5 L728.5,60.5 L732.5,64 L732,74 L729,86 L723.5,96 L716.5,101.5 L706,103 Z" fill="#ff7a10" filter="url(#bl2)" opacity="0.9"/>
<path d="M699.5,101 L701.5,86 L703,78 L711,70 L721,62.5 L728.5,60.5 L732.5,64 L732,74 L729,86 L723.5,96 L716.5,101.5 L706,103 Z" fill="#ff9a10" filter="url(#bl05)"/>
<path d="M702.5,99 L704,86 L706,79 L713,72 L721.5,65 L727.5,63 L730,66 L729.5,75 L726.5,86 L721.5,94.5 L715,99.5 L707,100.5 Z" fill="#ffdc38" filter="url(#bl1)"/>
<ellipse cx="717" cy="84" rx="8" ry="10" transform="rotate(35 717 84)" fill="#ffec70" filter="url(#bl2)"/>
<ellipse cx="723" cy="79" rx="3.2" ry="4.2" transform="rotate(20 723 79)" fill="#fffbe8" filter="url(#bl05)"/>
<ellipse cx="703.8" cy="77.6" rx="1.6" ry="2.2" fill="#fff8e0" filter="url(#bl05)"/>
<ellipse cx="727" cy="66" rx="2.5" ry="3" fill="#ffe880" filter="url(#bl05)"/>
</g>
<text transform="translate(704.74,54.12) scale(1.063,1)" font-size="11.33" fill="#fff" stroke="#fff" stroke-width="0.15">Eye</text>
<text transform="translate(693.07,72)" font-size="11.59" fill="#fff" stroke="#fff" stroke-width="0.15">BAT</text>
<text transform="translate(671.06,90.09) scale(1.071,1)" font-size="11.02" fill="#fff" stroke="#fff" stroke-width="0.15">Tail</text>
<path d="M721.1,58.5 L724.4,56.8 L724.9,61.6 Z M713.8,73.8 L718.4,71.9 L718.9,76.1 Z M688.9,91.6 L693.5,89.4 L693.5,95.6 Z" fill="#fff"/>
<g clip-path="url(#clipF)">
<rect x="642.5" y="328.4" width="78.3" height="79.2" fill="#6a1ab8"/>
<ellipse cx="688" cy="398" rx="48" ry="34" fill="url(#gF)"/>
<circle cx="702.7" cy="349.8" r="2.4" fill="#1c0a50" filter="url(#bl05)"/>
<circle cx="645" cy="354.7" r="2.0" fill="#1c0a50" filter="url(#bl05)"/>
<circle cx="708.5" cy="353.5" r="1.0" fill="#1c0a50" filter="url(#bl05)"/>
<path d="M653.5,366 C652.5,355 654.5,342 660,329" stroke="#c070d8" stroke-width="1.8" opacity="0.8" fill="none" filter="url(#bl05)"/>
<path d="M645.5,380 C645.5,368 653,362 667,362 C680,362 690,367 700,375 C708,381.5 714,388 717.5,394.5 C713,398 702,398 690,397.5 C675,397 660,395 652,391 C647.5,388.5 645.5,384.5 645.5,380 Z" fill="#ff6a10" filter="url(#bl2)" opacity="0.8"/>
<path d="M645.5,380 C645.5,368 653,362 667,362 C680,362 690,367 700,375 C708,381.5 714,388 717.5,394.5 C713,398 702,398 690,397.5 C675,397 660,395 652,391 C647.5,388.5 645.5,384.5 645.5,380 Z" fill="url(#gFb)" filter="url(#bl05)"/>
<path d="M692.5,373 L698.5,376.5 L690,393 L683,391.5 Z" fill="#fffce8" filter="url(#bl1)"/>
<path d="M693.2,375 L696.6,377 L689,391 L685.4,390 Z" fill="#ffffff" filter="url(#bl05)"/>
<ellipse cx="701.8" cy="381.2" rx="1.8" ry="1.4" fill="#ff9a20" filter="url(#bl05)"/>
<ellipse cx="693.3" cy="394.2" rx="2" ry="1.4" fill="#ff9a20" filter="url(#bl05)"/>
</g>
<text transform="translate(659.27,356.29)" font-size="11.29" fill="#fff" stroke="#fff" stroke-width="0.15">Tail</text>
<text transform="translate(692.41,369.1) scale(1.024,1)" font-size="10.87" fill="#fff" stroke="#fff" stroke-width="0.15">BAT</text>
<text transform="translate(681.16,405.45) scale(1.116,1)" font-size="10.50" fill="#fff" stroke="#fff" stroke-width="0.15">Eye</text>
<path d="M654.5,355.6 L657.4,352.5 L658.3,355.8 Z M693.8,374.4 L694.8,371.4 L697.2,373.2 Z M702.8,399.8 L705.8,399.6 L704,402.6 Z" fill="#fff"/>
</svg></body></html>
